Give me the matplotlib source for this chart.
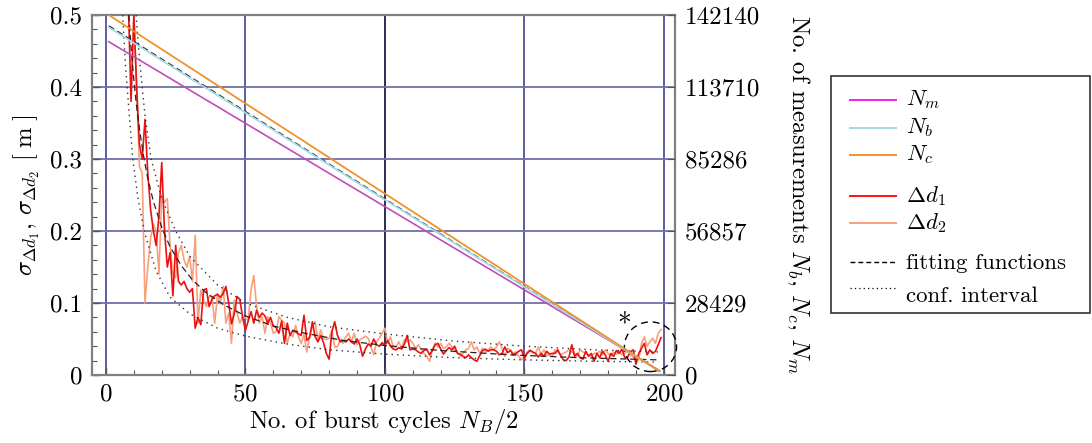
import matplotlib
matplotlib.use("Agg")
import matplotlib.pyplot as plt
from matplotlib.lines import Line2D
from matplotlib.patches import Rectangle, Ellipse
import numpy as np

plt.rcParams['font.family'] = 'serif'
plt.rcParams['font.serif'] = ['cmr10', 'DejaVu Serif']
plt.rcParams['mathtext.fontset'] = 'cm'
plt.rcParams['axes.formatter.use_mathtext'] = True

# ---------------- data ----------------
x_start = 7
d1 = [0.60, 0.52, 0.38, 0.50, 0.40, 0.32, 0.30, 0.355, 0.28, 0.23,
      0.20, 0.18, 0.22, 0.295, 0.20, 0.15, 0.17, 0.11, 0.18, 0.13,
      0.125, 0.13, 0.12, 0.115, 0.12, 0.065, 0.08, 0.07, 0.118, 0.12,
      0.095, 0.105, 0.11, 0.112, 0.108, 0.113, 0.123, 0.10, 0.071, 0.085,
      0.109, 0.105, 0.08, 0.062, 0.075, 0.088, 0.072, 0.09, 0.08, 0.086,
      0.082, 0.072, 0.08, 0.068, 0.066, 0.058, 0.075, 0.044, 0.072, 0.055,
      0.062,
      0.060, 0.057, 0.055, 0.083, 0.048, 0.052, 0.074, 0.053, 0.046, 0.055,
      0.045, 0.030, 0.022, 0.060, 0.074, 0.055, 0.046, 0.048, 0.046, 0.050,
      0.046, 0.043, 0.050, 0.042, 0.026, 0.036, 0.043, 0.040, 0.050, 0.042,
      0.040, 0.045, 0.041, 0.048, 0.040, 0.036,
      0.035, 0.038, 0.036, 0.043, 0.055, 0.035, 0.036, 0.035, 0.032, 0.030,
      0.034, 0.036, 0.028, 0.034, 0.042, 0.044, 0.036, 0.029, 0.034, 0.038,
      0.035, 0.040, 0.030, 0.029, 0.026, 0.024, 0.028, 0.024, 0.021, 0.019,
      0.027, 0.034, 0.036, 0.033, 0.035, 0.035,
      0.033, 0.028, 0.030, 0.039, 0.031, 0.034, 0.028, 0.030, 0.033, 0.035,
      0.023, 0.030, 0.034, 0.032, 0.030, 0.025, 0.030, 0.026, 0.033, 0.029,
      0.030, 0.030, 0.035, 0.027, 0.021, 0.020, 0.025, 0.042, 0.026, 0.030,
      0.024, 0.022, 0.033, 0.026, 0.030, 0.019,
      0.030, 0.024, 0.033, 0.028, 0.019, 0.030, 0.026, 0.034, 0.030, 0.036,
      0.024, 0.025, 0.032, 0.035, 0.015, 0.030, 0.037, 0.044, 0.028, 0.035,
      0.030, 0.033, 0.042, 0.052]
d2 = [0.60, 0.55, 0.52, 0.50, 0.40, 0.29, 0.28, 0.10, 0.15, 0.19,
      0.21, 0.20, 0.14, 0.25, 0.24, 0.245, 0.18, 0.14, 0.135, 0.17,
      0.18, 0.16, 0.15, 0.165, 0.13, 0.194, 0.072,
      0.118, 0.104, 0.095, 0.109, 0.109, 0.072, 0.113, 0.099, 0.123, 0.072,
      0.086, 0.044, 0.104, 0.086, 0.072, 0.081, 0.079, 0.076, 0.118, 0.138,
      0.095, 0.072, 0.081, 0.058, 0.081, 0.072, 0.058, 0.060, 0.081, 0.076,
      0.072, 0.044, 0.058, 0.053,
      0.069, 0.053, 0.044, 0.056, 0.032, 0.053, 0.067, 0.074, 0.049, 0.0625,
      0.051, 0.049, 0.051, 0.0625, 0.039, 0.039, 0.049, 0.044, 0.053, 0.058,
      0.046, 0.058, 0.042, 0.049, 0.051, 0.054, 0.051, 0.039, 0.028, 0.046,
      0.051, 0.058, 0.065, 0.044, 0.053, 0.039,
      0.039, 0.046, 0.037, 0.049, 0.046, 0.049, 0.044, 0.037, 0.042, 0.035,
      0.030, 0.026, 0.019, 0.035, 0.044, 0.039, 0.044, 0.037, 0.039, 0.044,
      0.039, 0.035, 0.032, 0.026, 0.030, 0.035, 0.037, 0.046, 0.035, 0.039,
      0.030, 0.037, 0.032, 0.035, 0.039, 0.035,
      0.039, 0.046, 0.037, 0.026, 0.037, 0.035, 0.030, 0.032, 0.026, 0.021,
      0.026, 0.032, 0.035, 0.031, 0.030, 0.039, 0.028, 0.035, 0.028, 0.027,
      0.026, 0.035, 0.032, 0.028, 0.030, 0.032, 0.035, 0.032, 0.030, 0.026,
      0.035, 0.032, 0.030, 0.028, 0.026, 0.030,
      0.030, 0.033, 0.028, 0.035, 0.030, 0.026, 0.032, 0.029, 0.033, 0.028,
      0.030, 0.034, 0.028, 0.025, 0.022, 0.021, 0.044, 0.053, 0.040, 0.046,
      0.051, 0.044, 0.058, 0.063]

fit_x = [8.2, 9, 10, 11, 12, 13.5, 15, 17, 20, 23, 27, 31, 36, 42, 50,
         60, 70, 85, 100, 120, 145, 170, 198]
fit_y = [0.5, 0.455, 0.41, 0.373, 0.342, 0.304, 0.273, 0.241, 0.205, 0.178,
         0.152, 0.132, 0.114, 0.098, 0.082, 0.068, 0.059, 0.048, 0.041, 0.034,
         0.028, 0.024, 0.021]
low_x = [6, 7, 8, 9.6, 11.5, 13.7, 17.9, 23, 30, 40, 50, 65, 80, 100, 125,
         150, 175, 198]
low_y = [0.5, 0.43, 0.38, 0.30, 0.245, 0.20, 0.145, 0.108, 0.085, 0.065,
         0.054, 0.043, 0.035, 0.029, 0.024, 0.021, 0.019, 0.018]
up_x = [10.8, 12, 14, 16.2, 20, 25, 30, 40, 50, 65, 80, 100, 125, 150, 175, 198]
up_y = [0.5, 0.44, 0.36, 0.30, 0.245, 0.20, 0.165, 0.125, 0.10, 0.08, 0.067,
        0.057, 0.047, 0.040, 0.035, 0.032]

n_x = [1, 198.5]
N_m = [131600, 1700]
N_b = [137300, 1420]
N_c = [142140, 1420]
N_fit = [137900, 1500]

x_ticks = [0, 50, 100, 150, 200]
y_ticks = [0, 0.1, 0.2, 0.3, 0.4, 0.5]
y_ticklabels = ['0', '0.1', '0.2', '0.3', '0.4', '0.5']
r_ticks = [0, 28429, 56857, 85286, 113710, 142140]
r_max = 142140

marker_x, marker_y = 185.7, 0.069
circle_xy, circle_w, circle_h = (195.2, 0.0393), 18.7, 0.069

# ---------------- colours ----------------
c_m_plot, c_m_leg = '#c24cba', '#f020e8'
c_b = '#a6d8e6'
c_c = '#f0922a'
c_d1 = '#ec1010'
c_d2 = '#f8a07c'
grid_c = '#7070aa'
spine_c = '#808080'

TICK_FS = 18
LABEL_FS = 17.8
LEG_FS = 16.5

W, H = 1092, 443
fig = plt.figure(figsize=(W / 100, H / 100), dpi=100)
ax = fig.add_axes([92 / W, 68 / H, 583 / W, 360 / H])

xs = np.arange(x_start, x_start + len(d1))
xs2 = np.arange(x_start, x_start + len(d2))

ax.plot(xs2, d2, color=c_d2, lw=1.2, zorder=3)
ax.plot(xs, d1, color=c_d1, lw=1.2, zorder=4)
ax.plot(fit_x, fit_y, color='#222222', lw=0.9, ls=(0, (5, 3)), zorder=5)
ax.plot(low_x, low_y, color='#333333', lw=1.0, ls=(0, (1, 3)), zorder=5)
ax.plot(up_x, up_y, color='#333333', lw=1.0, ls=(0, (1, 3)), zorder=5)

ax.set_xlim(-5, 204)
ax.set_ylim(0, 0.5)
ax.set_xticks(x_ticks)
ax.set_yticks(y_ticks)
ax.set_yticklabels(y_ticklabels)
ax.set_xticks(np.arange(0, 201, 10), minor=True)
ax.set_yticks(np.arange(0, 0.501, 0.02), minor=True)
ax.tick_params(which='both', direction='in', color='#555555', labelsize=TICK_FS,
               top=False, right=False)
ax.tick_params(which='major', length=6, width=1.0)
ax.tick_params(which='minor', length=3.5, width=0.8)
ax.tick_params(axis='y', pad=7)
ax.tick_params(axis='x', pad=6)
ax.grid(True, which='major', color=grid_c, lw=1.3)
for i, gl in enumerate(ax.get_xgridlines()):
    gl.set_color('#505098')
    if x_ticks[i] == 100:
        gl.set_color('#1c1c48')
for sp in ax.spines.values():
    sp.set_color(spine_c)
    sp.set_linewidth(1.6)

ax.set_xlabel(r'No. of burst cycles $N_B/2$', fontsize=LABEL_FS, labelpad=1)
ax.set_ylabel(r'$\sigma_{\Delta d_1}$, $\sigma_{\Delta d_2}$ $[\;\mathrm{m}\;]$',
              fontsize=LABEL_FS, labelpad=6)

ax2 = ax.twinx()
ax2.plot(n_x, N_m, color=c_m_plot, lw=1.2, zorder=2)
ax2.plot(n_x, N_fit, color='#222222', lw=0.9, ls=(0, (5, 3)), zorder=3)
ax2.plot(n_x, N_b, color=c_b, lw=1.3, zorder=4)
ax2.plot(n_x, N_c, color=c_c, lw=1.3, zorder=5)
ax2.set_ylim(0, r_max)
ax2.set_yticks(r_ticks)
ax2.set_yticklabels([str(v) for v in r_ticks])
ax2.tick_params(direction='in', color='#555555', labelsize=TICK_FS, length=6, pad=7)
for sp in ax2.spines.values():
    sp.set_visible(False)
ax2.set_ylabel(r'No. of measurements $N_b$, $N_c$, $N_m$', fontsize=LABEL_FS,
               rotation=270, labelpad=18, va='bottom')

ax.text(marker_x, marker_y, '*', fontsize=20, ha='center', va='center', zorder=6)
ax.add_patch(Ellipse(circle_xy, circle_w, circle_h, fill=False, ec='black',
                     lw=1.0, ls=(0, (5, 3.5)), clip_on=False, zorder=6))

# ---------------- legend (figure pixels) ----------------
def fx(px):
    return px / W

def fy(py):
    return 1 - py / H

fig.patches.append(Rectangle((fx(831), fy(313)), fx(1090) - fx(831),
                             fy(76) - fy(313), transform=fig.transFigure,
                             fill=False, ec='#333333', lw=1.2))
entries = [
    (100, dict(color=c_m_leg, lw=1.4), r'$N_m$', 100),
    (127.5, dict(color=c_b, lw=1.4), r'$N_b$', 127.5),
    (155, dict(color=c_c, lw=1.4), r'$N_c$', 155),
    (196, dict(color='#ff1010', lw=1.4), r'$\Delta d_1$', 196),
    (223, dict(color=c_d2, lw=1.4), r'$\Delta d_2$', 223),
    (262, dict(color='black', lw=1.0, ls=(0, (3.5, 2.2))), 'fitting functions', 263),
    (288, dict(color='black', lw=0.9, ls=(0, (1, 2.5))), 'conf. interval', 296),
]
for y_line, style, label, y_text in entries:
    fig.add_artist(Line2D([fx(850), fx(896)], [fy(y_line), fy(y_line)],
                          transform=fig.transFigure, **style))
    fig.text(fx(906), fy(y_text), label, fontsize=LEG_FS, ha='left', va='center')

fig.savefig('out.png', dpi=100)
